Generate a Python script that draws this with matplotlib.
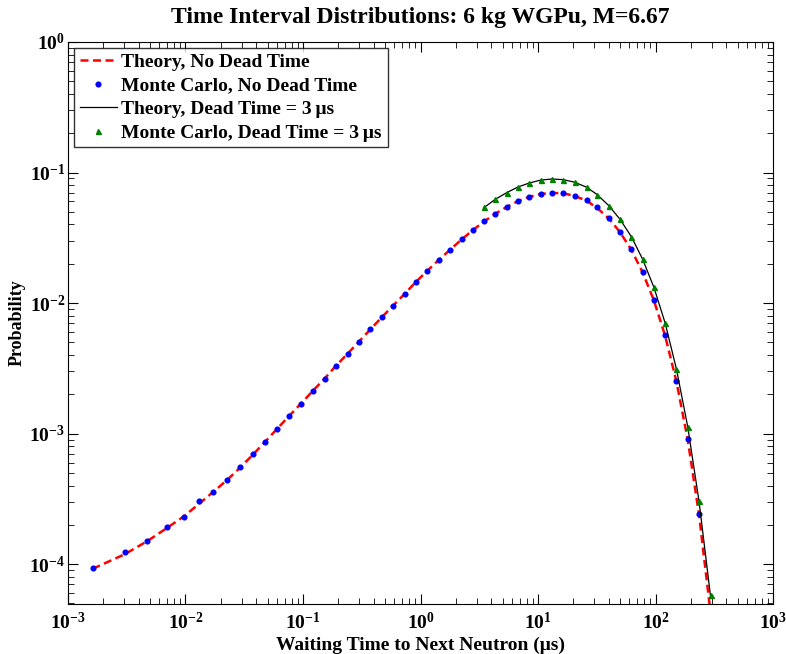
import matplotlib
matplotlib.use("Agg")
import matplotlib.pyplot as plt
from matplotlib.ticker import LogLocator, NullFormatter

plt.rcParams['font.family'] = ['Liberation Serif', 'DejaVu Serif']
plt.rcParams['font.weight'] = 'bold'
plt.rcParams['mathtext.fontset'] = 'custom'
plt.rcParams['mathtext.rm'] = 'Liberation Serif:bold'
plt.rcParams['mathtext.it'] = 'Liberation Serif:italic:bold'
plt.rcParams['mathtext.bf'] = 'Liberation Serif:bold'

#   waiting time bins (microseconds)

t_bins = [0.00162, 0.00304, 0.00473, 0.00695, 0.00968, 0.01306, 0.01726, 0.02254,
          0.0291, 0.0375, 0.0476, 0.0603, 0.0766, 0.0962, 0.1216, 0.1528, 0.1905,
          0.2393, 0.2999, 0.375, 0.470, 0.587, 0.736, 0.912, 1.146, 1.429, 1.795,
          2.239, 2.799, 3.483, 4.345, 5.433, 6.730, 8.395, 10.54, 13.15, 16.37,
          20.46, 25.88, 31.84, 39.99, 49.77, 62.23, 77.62, 96.83, 120.8, 150.7,
          187.9, 234.4, 294.4]

#   no dead time

theory_nodt = [9.2e-5, 1.19e-4, 1.50e-4, 1.89e-4, 2.32e-4, 2.90e-4, 3.58e-4, 4.40e-4,
               5.48e-4, 6.90e-4, 8.65e-4, 1.09e-3, 1.37e-3, 1.70e-3, 2.13e-3, 2.64e-3,
               3.30e-3, 4.09e-3, 5.07e-3, 6.30e-3, 7.80e-3, 9.60e-3, 1.18e-2, 1.45e-2,
               1.77e-2, 2.14e-2, 2.57e-2, 3.07e-2, 3.63e-2, 4.22e-2, 4.84e-2, 5.46e-2,
               6.03e-2, 6.50e-2, 6.85e-2, 6.98e-2, 6.93e-2, 6.62e-2, 6.08e-2, 5.35e-2,
               4.45e-2, 3.50e-2, 2.56e-2, 1.72e-2, 1.05e-2, 5.60e-3, 2.50e-3, 9.0e-4,
               2.4e-4, 4.2e-5]

mc_nodt = [9.27e-5, 1.23e-4, 1.51e-4, 1.92e-4, 2.28e-4, 3.02e-4, 3.58e-4, 4.38e-4,
           5.50e-4, 6.97e-4, 8.61e-4, 1.09e-3, 1.37e-3, 1.68e-3, 2.13e-3, 2.63e-3,
           3.30e-3, 4.08e-3, 5.05e-3, 6.31e-3, 7.80e-3, 9.57e-3, 1.18e-2, 1.45e-2,
           1.77e-2, 2.14e-2, 2.57e-2, 3.08e-2, 3.63e-2, 4.24e-2, 4.84e-2, 5.46e-2,
           6.03e-2, 6.50e-2, 6.89e-2, 7.02e-2, 6.98e-2, 6.65e-2, 6.14e-2, 5.42e-2,
           4.47e-2, 3.53e-2, 2.59e-2, 1.74e-2, 1.06e-2, 5.68e-3, 2.52e-3, 9.12e-4,
           2.44e-4]

#   dead time = 3 us (starts at bin 29)

dt_start = 29
theory_dt = [5.40e-2, 6.25e-2, 7.02e-2, 7.74e-2, 8.30e-2, 8.75e-2, 8.92e-2, 8.82e-2,
             8.43e-2, 7.72e-2, 6.78e-2, 5.58e-2, 4.39e-2, 3.23e-2, 2.17e-2, 1.32e-2,
             7.02e-3, 3.12e-3, 1.13e-3, 3.04e-4, 5.6e-5]

mc_dt = [5.42e-2, 6.25e-2, 7.02e-2, 7.76e-2, 8.32e-2, 8.78e-2, 8.93e-2, 8.82e-2,
         8.43e-2, 7.71e-2, 6.78e-2, 5.58e-2, 4.39e-2, 3.23e-2, 2.17e-2, 1.32e-2,
         7.02e-3, 3.12e-3, 1.13e-3, 3.04e-4, 5.83e-5]

fig = plt.figure(figsize=(7.86, 6.54), dpi=100)
ax = fig.add_axes([0.0865, 0.0765, 0.897, 0.8593])

ax.plot(t_bins, theory_nodt, color='red', linestyle=(0, (3.2, 1.8)), linewidth=1.8,
        label='Theory, No Dead Time')
ax.plot(t_bins[:len(mc_nodt)], mc_nodt, linestyle='none', marker='o', markersize=3.4,
        color='blue', label='Monte Carlo, No Dead Time')
ax.plot(t_bins[dt_start:], theory_dt, color='black', linewidth=0.9,
        label='Theory, Dead Time = 3\u2009\u03bcs')
ax.plot(t_bins[dt_start:], mc_dt, linestyle='none', marker='^', markersize=3.6,
        color='green', label='Monte Carlo, Dead Time = 3\u2009\u03bcs')

ax.set_xscale('log')
ax.set_yscale('log')
ax.set_xlim(1e-3, 1e3)
ax.set_ylim(4.95e-5, 1)

ax.xaxis.set_major_locator(LogLocator(base=10, numticks=10))
ax.yaxis.set_major_locator(LogLocator(base=10, numticks=10))
ax.xaxis.set_minor_locator(LogLocator(base=10, subs=range(2, 10), numticks=20))
ax.yaxis.set_minor_locator(LogLocator(base=10, subs=range(2, 10), numticks=20))
ax.xaxis.set_minor_formatter(NullFormatter())
ax.yaxis.set_minor_formatter(NullFormatter())

ax.tick_params(which='both', direction='in', top=True, right=True)
ax.tick_params(which='major', length=7, labelsize=14)
ax.tick_params(which='minor', length=4)
ax.tick_params(axis='x', which='major', pad=6)
ax.tick_params(axis='y', which='major', pad=2)

ax.set_title('Time Interval Distributions: 6 kg WGPu, M=6.67', fontsize=17,
             fontweight='bold', pad=14)
ax.set_xlabel('Waiting Time to Next Neutron (\u03bcs)', fontsize=14, fontweight='bold')
ax.xaxis.set_label_coords(0.5, -0.058)
ax.set_ylabel('Probability', fontsize=13, fontweight='bold')
ax.yaxis.set_label_coords(-0.06, 0.5)

leg = ax.legend(loc='upper left', fontsize=14, frameon=True, fancybox=False,
                edgecolor='black', borderaxespad=0.3, handlelength=1.9,
                labelspacing=0.3, borderpad=0.3, handletextpad=0.25)
leg.get_frame().set_linewidth(1.0)

fig.savefig('out.png', dpi=100)
